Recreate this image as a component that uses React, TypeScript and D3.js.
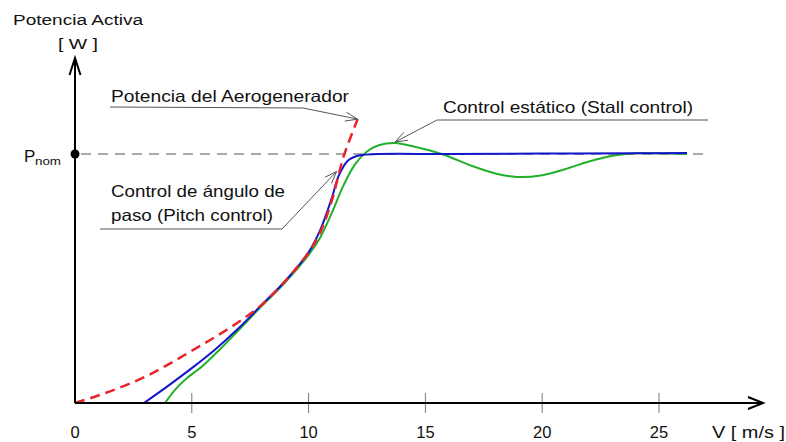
import React from "react";
import * as d3 from "d3";

// Turbine power curves: available wind power, pitch-controlled and stall-controlled output.
const redSpeed = [0, 1, 2, 3, 4, 5, 6, 7, 8, 9, 10, 10.5, 11, 11.5, 12.1];
const redPower = [0, 0.03, 0.065, 0.105, 0.155, 0.21, 0.265, 0.325, 0.395, 0.49, 0.605, 0.685, 0.815, 0.99, 1.14];

const pitchSpeed = [2.95, 4, 5, 6, 7, 8, 9, 10, 10.5, 11, 11.3, 11.7, 12.2, 13, 16, 20, 24, 26.2];
const pitchPower = [0, 0.07, 0.14, 0.215, 0.3, 0.395, 0.49, 0.605, 0.695, 0.825, 0.915, 0.975, 0.995, 1.0, 1.0, 1.002, 1.003, 1.004];

const stallSpeed = [3.85, 4.3, 4.8, 5.5, 6.2, 7, 8, 9, 10, 10.5, 11, 11.5, 12, 12.5, 13, 13.7, 14.5, 15.7, 17, 18, 18.9, 20, 21, 22, 23, 24, 25, 26.2];
const stallPower = [0, 0.055, 0.1, 0.152, 0.215, 0.292, 0.39, 0.485, 0.595, 0.665, 0.765, 0.875, 0.96, 1.01, 1.035, 1.044, 1.03, 1.0, 0.952, 0.922, 0.908, 0.915, 0.94, 0.97, 0.993, 1.003, 1.003, 1.0];

const xTicks = [0, 5, 10, 15, 20, 25];

const W = 786;
const H = 442;
const FONT = "'Liberation Sans', Arial, Helvetica, sans-serif";

function toPoints(xs: number[], ys: number[]): [number, number][] {
  return xs.map((v, i) => [v, ys[i]]);
}

function arrowHead(x0: number, y0: number, x1: number, y1: number, len: number, spread: number) {
  const a = Math.atan2(y1 - y0, x1 - x0);
  const p1 = [x1 - len * Math.cos(a - spread), y1 - len * Math.sin(a - spread)];
  const p2 = [x1 - len * Math.cos(a + spread), y1 - len * Math.sin(a + spread)];
  return `M${p1[0]},${p1[1]}L${x1},${y1}L${p2[0]},${p2[1]}`;
}

export default function App() {
  const x = d3.scaleLinear().domain([0, 25]).range([75, 659]);
  const y = d3.scaleLinear().domain([0, 1]).range([403, 154]);

  const line = d3
    .line<[number, number]>()
    .x((d) => x(d[0]))
    .y((d) => y(d[1]))
    .curve(d3.curveCatmullRom.alpha(0.5));

  const x0 = x(0);
  const y0 = y(0);
  const pNom = y(1);

  // annotation anchors on the curves
  const redTip: [number, number] = [x(redSpeed[redSpeed.length - 1]), y(redPower[redPower.length - 1])];
  const peakIdx = stallPower.indexOf(d3.max(stallPower) as number);
  const stallTip: [number, number] = [x(stallSpeed[peakIdx]), y(stallPower[peakIdx]) - 1];
  const pitchTip: [number, number] = [x(11.2), y(0.93)];

  const leader = "#555";
  const fs = 16.5;

  return (
    <svg width={W} height={H} style={{ position: "absolute", left: 0, top: 0, background: "#fff" }}>
      <rect width={W} height={H} fill="#fff" />

      {/* axis titles */}
      <text x={13} y={25} fontFamily={FONT} fontSize={15.5} textLength={130} lengthAdjust="spacingAndGlyphs" fill="#111">
        Potencia Activa
      </text>
      <text x={58} y={49} fontFamily={FONT} fontSize={15.5} textLength={40} lengthAdjust="spacingAndGlyphs" fill="#111">
        [ W ]
      </text>

      {/* nominal power reference */}
      <line x1={x0 + 6} x2={710} y1={pNom} y2={pNom} stroke="#555" strokeWidth={1} strokeDasharray="10,7" />
      <text x={24} y={162} fontFamily={FONT} fontSize={17} fill="#111">
        P
      </text>
      <text x={35} y={165} fontFamily={FONT} fontSize={11.5} textLength={26} lengthAdjust="spacingAndGlyphs" fill="#111">
        nom
      </text>

      {/* ticks */}
      {xTicks.slice(1).map((t) => (
        <line key={t} x1={x(t)} x2={x(t)} y1={y0 - 10} y2={y0 + 10} stroke="#777" strokeWidth={1} />
      ))}
      {xTicks.map((t) => (
        <text key={t} x={x(t)} y={438} textAnchor="middle" fontFamily={FONT} fontSize={fs} fill="#111">
          {t}
        </text>
      ))}
      <text x={712} y={438} fontFamily={FONT} fontSize={fs} textLength={73} lengthAdjust="spacingAndGlyphs" fill="#111">
        V  [ m/s ]
      </text>

      {/* curves */}
      <path d={line(toPoints(stallSpeed, stallPower)) || ""} fill="none" stroke="#22b02a" strokeWidth={2} />
      <path d={line(toPoints(pitchSpeed, pitchPower)) || ""} fill="none" stroke="#1515cc" strokeWidth={2} />
      <path
        d={line(toPoints(redSpeed, redPower)) || ""}
        fill="none"
        stroke="#e8232a"
        strokeWidth={2.5}
        strokeDasharray="10,6"
      />

      {/* axes */}
      <line x1={x0} x2={x0} y1={y0} y2={58} stroke="#000" strokeWidth={2} />
      <line x1={x0} x2={763} y1={y0} y2={y0} stroke="#000" strokeWidth={2} />
      <path d={`M${x0 - 5.5},75L${x0},58L${x0 + 5.5},75`} fill="none" stroke="#000" strokeWidth={2} />
      <path d={`M748,397L763,${y0}L748,409`} fill="none" stroke="#000" strokeWidth={2} />
      <circle cx={x0} cy={pNom} r={4.5} fill="#000" />

      {/* annotations */}
      <text x={111} y={102} fontFamily={FONT} fontSize={fs} textLength={238} lengthAdjust="spacingAndGlyphs" fill="#111">
        Potencia del Aerogenerador
      </text>
      <path d={`M110,107L303,108L${redTip[0]},${redTip[1]}`} fill="none" stroke={leader} strokeWidth={1} />
      <path d={arrowHead(303, 108, redTip[0], redTip[1], 13, 0.35)} fill="none" stroke={leader} strokeWidth={1} />

      <text x={443} y={113} fontFamily={FONT} fontSize={fs} textLength={250} lengthAdjust="spacingAndGlyphs" fill="#111">
        Control estático (Stall control)
      </text>
      <path d={`M708,120L437,120L${stallTip[0]},${stallTip[1]}`} fill="none" stroke={leader} strokeWidth={1} />
      <path d={arrowHead(437, 120, stallTip[0], stallTip[1], 13, 0.35)} fill="none" stroke={leader} strokeWidth={1} />

      <text x={111} y={197} fontFamily={FONT} fontSize={fs} textLength={174} lengthAdjust="spacingAndGlyphs" fill="#111">
        Control de ángulo de
      </text>
      <text x={111} y={221} fontFamily={FONT} fontSize={fs} textLength={162} lengthAdjust="spacingAndGlyphs" fill="#111">
        paso (Pitch control)
      </text>
      <path d={`M100,229L282,229L${pitchTip[0]},${pitchTip[1]}`} fill="none" stroke={leader} strokeWidth={1} />
      <path d={arrowHead(282, 229, pitchTip[0], pitchTip[1], 13, 0.35)} fill="none" stroke={leader} strokeWidth={1} />
    </svg>
  );
}
